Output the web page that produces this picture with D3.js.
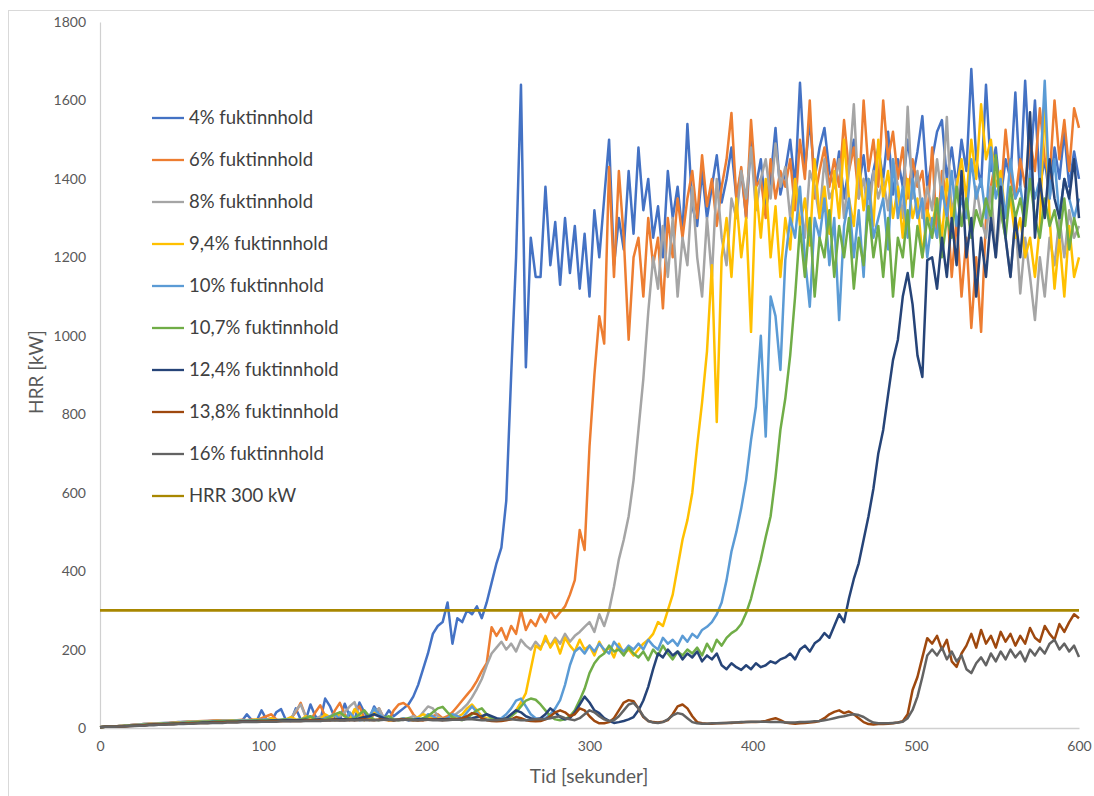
<!DOCTYPE html>
<html><head><meta charset="utf-8">
<script src="https://cdn.jsdelivr.net/npm/d3@7"></script>
<style>body{margin:0;background:#fff}svg{display:block}</style>
</head><body>
<script>
// sampling times (seconds)
const time = d3.range(0, 601, 3);
const yTicks = [0,200,400,600,800,1000,1200,1400,1600,1800];
const xTicks = [0,100,200,300,400,500,600];
const names = ["4% fuktinnhold","6% fuktinnhold","8% fuktinnhold","9,4% fuktinnhold","10% fuktinnhold","10,7% fuktinnhold","12,4% fuktinnhold","13,8% fuktinnhold","16% fuktinnhold","HRR 300 kW"];
const colors = ["#4472C4","#ED7D31","#A5A5A5","#FFC000","#5B9BD5","#70AD47","#264478","#9E480E","#636363","#A88700"];

const s4 = [2,3,3,4,5,6,7,8,9,10, 11,11,12,13,13,14,15,15,16,16, 17,17,18,18,19,19,18,19,20,18,
 35,20,18,45,22,17,40,48,20,18, 50,22,19,60,30,18,75,55,25,20, 62,30,20,65,40,22,55,35,25,45,
 30,40,50,60,80,110,150,190,240,260, 270,320,215,280,270,300,290,310,280,320,
 370,420,460,580,900,1200,1640,920,1250,1150, 1150,1380,1180,1290,1130,1300,1160,1280,1120,1260,
 1100,1320,1200,1350,1500,1180,1300,1220,1420,1260, 1480,1320,1400,1250,1330,1200,1420,1300,1380,1260,
 1540,1330,1280,1420,1300,1380,1460,1340,1400,1480, 1350,1420,1300,1500,1380,1450,1320,1400,1530,1360,
 1420,1500,1380,1645,1420,1550,1400,1480,1530,1420, 1380,1470,1350,1430,1500,1380,1460,1350,1420,1480,
 1400,1520,1360,1450,1380,1500,1400,1470,1560,1380, 1450,1520,1550,1400,1480,1380,1500,1420,1680,1450,
 1380,1640,1420,1480,1350,1450,1400,1620,1380,1650, 1420,1600,1380,1450,1350,1480,1400,1520,1380,1470,
 1400];
const s6 = [2,3,3,4,5,6,7,8,9,10, 10,11,12,12,13,14,14,15,16,16, 17,18,18,19,19,20,20,19,20,21,
 20,22,20,25,30,35,22,18,20,25, 40,64,30,20,40,58,30,20,45,64, 35,20,45,55,25,20,35,50,25,20,
 45,60,64,55,35,22,20,25,30,35, 25,30,40,55,70,85,100,120,145,165,
 257,235,255,225,260,240,300,250,275,260, 290,270,300,280,295,310,340,377,505,454,
 717,900,1050,980,1430,1150,1420,1250,990,1200, 1250,1100,1300,1180,1250,1070,1300,1200,1350,1250,
 1350,1420,1300,1460,1330,1400,1280,1380,1450,1568, 1350,1430,1300,1550,1380,1400,1300,1450,1350,1420,
 1380,1450,1320,1500,1400,1600,1350,1420,1480,1380, 1450,1380,1550,1420,1480,1350,1600,1420,1500,1380,
 1600,1450,1520,1400,1480,1350,1450,1380,1420,1300, 1480,1250,1420,1350,1150,1300,1100,1250,1020,1200,
 1010,1300,1380,1450,1350,1525,1400,1350,1450,1380, 1500,1420,1580,1450,1400,1600,1450,1550,1420,1580,
 1530];
const s8 = [2,3,3,4,5,6,7,8,9,10, 10,11,11,12,13,13,14,15,15,16, 16,17,17,18,18,19,19,19,20,20,
 19,20,21,20,22,25,20,21,22,24, 45,60,30,20,22,30,25,20,35,30, 40,55,66,30,20,25,40,50,25,22,
 20,22,20,25,30,25,40,55,50,30, 22,25,30,38,48,60,78,100,125,160,
 190,205,220,200,215,195,225,210,200,220, 205,225,210,230,215,240,220,235,245,258,
 270,245,290,260,300,360,430,480,540,632, 760,890,1060,1200,1120,1280,1150,1300,1100,1250,
 1180,1380,1200,1100,1300,1150,1400,1250,1180,1350, 1300,1420,1350,1480,1320,1400,1450,1350,1490,1380,
 1430,1300,1400,1350,1250,1420,1380,1300,1450,1350, 1380,1450,1300,1420,1590,1350,1400,1300,1420,1350,
 1400,1320,1450,1380,1300,1584,1350,1420,1300,1380, 1320,1450,1350,1558,1300,1400,1280,1350,1250,1380,
 1300,1250,1380,1200,1320,1250,1150,1300,1108,1250, 1150,1040,1200,1100,1250,1180,1300,1200,1320,1250,
 1280];
const s94 = [2,3,3,4,5,6,7,7,8,9, 10,10,11,12,12,13,14,14,15,15, 16,16,17,17,18,18,18,19,19,19,
 19,20,22,20,21,25,20,19,22,28, 22,20,30,25,20,22,35,28,20,40, 30,22,48,35,20,25,38,30,22,20,
 20,22,25,22,20,28,35,30,22,25, 22,25,30,28,35,50,60,45,30,25,
 22,20,22,25,30,45,65,89,150,210, 200,235,205,225,190,230,210,195,225,200,
 210,185,220,195,205,180,215,190,200,185, 200,215,225,240,270,260,300,340,410,480,
 530,600,720,830,960,1180,780,1200,1300,1150, 1350,1200,1300,1010,1380,1250,1400,1200,1330,1150,
 1300,1220,1400,1280,1350,1230,1450,1300,1380,1260, 1420,1300,1500,1350,1280,1450,1320,1400,1280,1500,
 1350,1420,1300,1380,1250,1400,1300,1350,1200,1320, 1280,1350,1250,1400,1300,1380,1450,1350,1500,1400,
 1590,1450,1500,1380,1420,1300,1350,1250,1300,1200, 1250,1150,1280,1600,1300,1120,1250,1100,1280,1150,
 1200];
const s10 = [2,3,3,4,5,5,6,7,8,9, 9,10,11,11,12,13,13,14,14,15, 15,16,16,17,17,18,18,18,19,19,
 19,20,20,21,22,20,19,20,22,21, 20,22,25,30,22,20,25,30,35,22, 20,40,25,20,22,30,50,35,25,22,
 20,22,25,20,22,25,20,35,30,22, 20,25,35,30,25,40,55,40,25,22,
 20,22,25,35,50,70,75,55,35,25, 22,25,35,50,71,110,160,195,205,190,
 210,195,215,200,190,220,205,195,210,200, 215,200,225,210,200,230,215,225,210,235,
 220,240,230,250,258,270,290,320,377,450, 500,560,632,734,819,1000,743,1100,1050,913,
 1193,1300,1250,1380,1200,1074,1300,1250,1350,1180, 1300,1040,1280,1350,1200,1320,1150,1400,1250,1300,
 1350,1220,1450,1300,1380,1250,1400,1300,1350,1200, 1300,1250,1380,1300,1420,1280,1350,1300,1450,1350,
 1400,1300,1480,1350,1400,1300,1450,1350,1380,1300, 1420,1350,1400,1650,1350,1450,1300,1400,1350,1300,
 1350];
const s107 = [2,3,3,4,4,5,6,7,7,8, 9,9,10,11,11,12,12,13,14,14, 15,15,16,16,17,17,17,18,18,18,
 18,19,19,20,20,19,20,21,22,20, 20,22,25,30,22,20,22,28,35,40, 30,22,25,35,45,30,22,20,25,30,
 22,20,22,25,22,20,25,30,40,50, 54,40,28,22,20,25,35,45,50,35,
 25,22,20,22,30,40,55,70,75,72, 60,45,30,22,20,22,30,45,71,100,
 140,165,181,190,210,195,200,185,205,190, 180,195,173,200,185,210,190,175,195,185,
 200,190,205,185,215,195,225,210,230,242, 250,265,293,330,380,430,487,540,640,760,
 840,950,1100,1278,1150,1300,1100,1250,1200,1320, 1150,1280,1200,1300,1120,1250,1180,1330,1200,1280,
 1150,1300,1100,1250,1200,1320,1150,1280,1200,1300, 1250,1350,1200,1300,1250,1380,1280,1350,1250,1320,
 1280,1350,1300,1460,1320,1250,1380,1300,1350,1280, 1400,1300,1250,1350,1280,1320,1250,1350,1220,1300,
 1250];
const s124 = [2,3,3,3,4,5,5,6,7,7, 8,9,9,10,10,11,11,12,12,13, 13,14,14,15,15,15,16,16,16,17,
 17,17,18,18,18,19,19,19,20,20, 20,20,21,20,21,22,20,21,22,23, 22,21,22,25,28,30,35,30,25,22,
 20,21,22,20,21,22,23,22,21,22, 22,23,22,21,22,24,25,28,30,35,
 30,25,22,25,35,45,40,30,25,22, 25,35,50,40,28,22,25,40,60,80,
 65,45,38,25,18,13,15,18,22,28, 45,70,105,150,190,180,200,185,195,175,
 190,180,195,170,185,175,190,160,150,165, 155,148,160,150,165,155,160,170,165,175,
 180,190,175,200,210,195,216,225,242,230, 260,290,270,330,380,420,480,540,610,700,
 760,850,938,990,1100,1160,1080,950,895,1193, 1200,1120,1250,1150,1300,1180,1420,1200,1300,1100,
 1250,1150,1300,1200,1380,1250,1150,1300,1200,1350, 1570,1250,1400,1300,1450,1350,1300,1400,1350,1450,
 1300];
const s138 = [2,3,3,3,4,4,5,6,6,7, 8,8,9,9,10,10,11,11,12,12, 13,13,13,14,14,14,15,15,15,16,
 16,16,16,17,17,17,17,18,18,18, 18,18,19,19,19,20,20,20,21,20, 20,21,20,21,22,21,20,22,21,20,
 20,21,22,21,20,19,20,21,22,21, 20,21,22,23,25,30,38,35,25,20,
 18,17,18,20,22,28,25,20,18,17, 18,22,30,40,45,40,30,35,50,45,
 30,18,12,12,15,25,45,65,71,68, 50,28,18,15,14,16,20,35,55,60,
 50,30,15,12,11,11,12,12,13,13, 14,14,15,15,15,16,18,22,25,20,
 14,12,11,12,13,14,15,18,25,35, 41,45,38,42,35,25,15,10,9,10,
 10,11,12,14,17,35,97,130,180,229, 215,235,200,225,170,156,190,210,240,205,
 250,215,235,205,245,220,240,210,235,215, 255,230,220,260,240,225,265,245,270,290,
 280];
const s16 = [2,3,3,3,4,4,5,5,6,6, 7,7,8,8,9,9,10,10,11,11, 12,12,12,13,13,13,14,14,14,15,
 15,15,15,16,16,16,16,17,17,17, 17,17,18,18,18,18,19,19,19,19, 19,20,20,20,20,20,20,20,21,21,
 21,20,21,21,20,20,21,21,20,20, 20,20,21,21,21,22,22,21,20,20,
 20,20,21,22,22,21,20,20,21,22, 22,23,25,28,30,25,22,20,25,35,
 45,40,30,22,18,20,30,45,60,64, 50,30,18,14,13,15,22,32,38,35,
 25,15,12,11,11,12,12,13,13,14, 14,15,15,16,16,16,16,15,15,15,
 14,14,14,15,15,16,17,18,20,22, 25,28,30,33,35,33,28,20,14,12,
 12,12,13,14,16,25,46,80,130,185, 200,185,205,175,195,170,185,150,140,165,
 180,160,190,170,195,175,200,180,195,170, 200,185,205,190,215,225,200,215,195,210,
 181];
const limit = [300, 300];
const limitTime = [0, 600];

const W = 1094, H = 796;
const svg = d3.select("body").append("svg").attr("width", W).attr("height", H);
svg.append("rect").attr("x", 8.5).attr("y", 10.5).attr("width", 1100).attr("height", 800)
  .attr("fill", "#fff").attr("stroke", "#D9D9D9").attr("stroke-width", 1);

const x = d3.scaleLinear().domain([0, 600]).range([100, 1079]);
const y = d3.scaleLinear().domain([0, 1800]).range([728, 22]);
const font = "Lato, 'Open Sans', sans-serif";

// axes
const gy = svg.append("g").attr("transform", "translate(100,0)")
  .call(d3.axisLeft(y).tickValues(yTicks).tickSize(0).tickPadding(14).tickFormat(d3.format("d")));
gy.select(".domain").attr("stroke", "#D0D0D0").attr("stroke-width", 1.2);
gy.selectAll("text").attr("font-family", font).attr("font-size", 14).attr("fill", "#595959");

const gx = svg.append("g").attr("transform", "translate(0,728)")
  .call(d3.axisBottom(x).tickValues(xTicks).tickSize(0).tickPadding(13).tickFormat(d3.format("d")));
gx.select(".domain").attr("stroke", "#D0D0D0").attr("stroke-width", 1.5);
gx.selectAll("text").attr("font-family", font).attr("font-size", 14).attr("fill", "#595959");

svg.append("text").attr("transform", "translate(36,372) rotate(-90)").attr("text-anchor", "middle")
  .attr("dy", "0.35em")
  .attr("font-family", font).attr("font-size", 19).attr("fill", "#595959").text("HRR [kW]");
svg.append("text").attr("x", 589).attr("y", 783).attr("text-anchor", "middle")
  .attr("font-family", font).attr("font-size", 19).attr("fill", "#595959").text("Tid [sekunder]");

// series
const series = [s4, s6, s8, s94, s10, s107, s124, s138, s16];
const line = d3.line().x((d, i) => x(time[i])).y(d => y(d));
series.forEach((s, k) => {
  svg.append("path").datum(s).attr("d", line).attr("fill", "none")
    .attr("stroke", colors[k]).attr("stroke-width", 2.5).attr("stroke-linejoin", "round");
});
svg.append("path").datum(limit)
  .attr("d", d3.line().x((d, i) => x(limitTime[i])).y(d => y(d)))
  .attr("fill", "none").attr("stroke", colors[9]).attr("stroke-width", 2.6);

// legend
const lg = svg.append("g");
names.forEach((n, k) => {
  const yy = 118 + k * 42;
  lg.append("line").attr("x1", 152).attr("x2", 184).attr("y1", yy).attr("y2", yy)
    .attr("stroke", colors[k]).attr("stroke-width", 2.3);
  lg.append("text").attr("x", 189).attr("y", yy).attr("dy", "0.35em")
    .attr("font-family", font).attr("font-size", 18.5).attr("fill", "#404040").text(n);
});
</script>
</body></html>
